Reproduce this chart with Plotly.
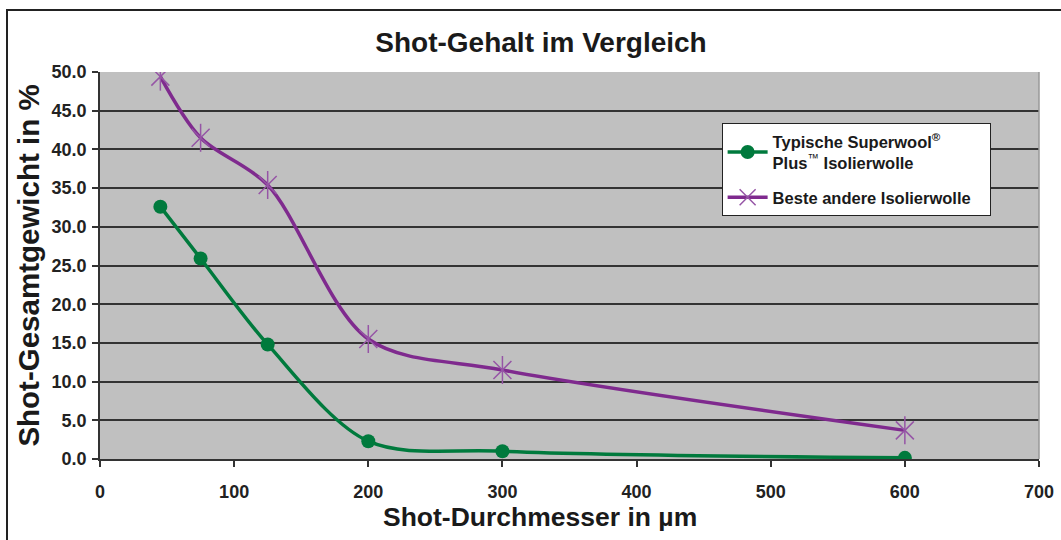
import plotly.graph_objects as go

diameter = [45, 75, 125, 200, 300, 600]
superwool = [32.6, 25.9, 14.8, 2.3, 1.0, 0.15]
other_wool = [49.4, 41.5, 35.4, 15.5, 11.5, 3.7]
x_ticks = [0, 100, 200, 300, 400, 500, 600, 700]
x_tick_labels = [f"<b>{v}</b>" for v in x_ticks]
y_ticks = [0, 5, 10, 15, 20, 25, 30, 35, 40, 45, 50]
y_tick_labels = [f"<b>{v:.1f}</b>" for v in y_ticks]

GREEN = "#007a3d"
PURPLE = "#7f2a8e"
PURPLE_MK = "#9655a6"
FONT = "Liberation Sans, Arial, sans-serif"

fig = go.Figure()
fig.add_trace(go.Scatter(
    x=diameter, y=superwool,
    name="<b>Typische Superwool<sup>®</sup></b><br><b>Plus</b><sup>™</sup><b> Isolierwolle</b>",
    mode="lines+markers", line=dict(color=GREEN, width=3.5, shape="spline", smoothing=0.9),
    marker=dict(symbol="circle", size=14, color=GREEN),
    legendgroup="a",
))
fig.add_trace(go.Scatter(
    x=diameter, y=other_wool, name="<b>Beste andere Isolierwolle</b>&nbsp;&nbsp;&nbsp;",
    mode="lines+markers", line=dict(color=PURPLE, width=3.5, shape="spline", smoothing=0.9),
    marker=dict(symbol="x-thin-open", size=18, color=PURPLE_MK, line=dict(color=PURPLE_MK, width=1.5)),
    legendgroup="b",
))
fig.add_trace(go.Scatter(
    x=diameter, y=other_wool, mode="markers", showlegend=False, hoverinfo="skip",
    marker=dict(symbol="line-ns-open", size=20, color=PURPLE_MK, line=dict(color=PURPLE_MK, width=1.5)),
))

# outer frame
fig.add_shape(type="rect", xref="paper", yref="paper",
              x0=-93/939, x1=(1070 - 100)/939, y0=-90/387, y1=449/387,
              line=dict(color="#222", width=2), fillcolor="rgba(0,0,0,0)", layer="below")
# right border of plot area
fig.add_shape(type="line", xref="paper", yref="paper", x0=1, x1=1, y0=0, y1=1,
              line=dict(color="#999", width=1.5))

# x-axis title, centred on the whole chart as in the reference
fig.add_annotation(text="<b>Shot-Durchmesser in µm</b>", xref="paper", yref="paper",
                   x=(540 - 100)/939, y=(459 - 517)/387, xanchor="center", yanchor="middle",
                   showarrow=False, font=dict(size=26.5, color="#1a1a1a", family=FONT))

fig.update_layout(
    width=1061, height=540,
    margin=dict(l=100, r=22, t=72, b=81, autoexpand=False),
    paper_bgcolor="white", plot_bgcolor="#c0c0c0",
    font=dict(family=FONT, color="#222"),
    title=dict(text="<b>Shot-Gehalt im Vergleich</b>", x=541/1061, xanchor="center",
               y=1 - 42/540, yanchor="middle", yref="container",
               font=dict(size=28, color="#1a1a1a")),
    showlegend=True,
    legend=dict(x=0.662, y=0.868, xanchor="left", yanchor="top",
                bgcolor="white", bordercolor="#222", borderwidth=1,
                font=dict(size=16.5, color="#1a1a1a", family=FONT),
                traceorder="grouped", tracegroupgap=10, itemwidth=40),
    xaxis=dict(range=[0, 700], tickvals=x_ticks, ticktext=x_tick_labels,
               showgrid=False, zeroline=False, automargin=False,
               showline=True, linecolor="#333", linewidth=1.5,
               ticks="outside", ticklen=6, tickcolor="#333", tickwidth=1.5,
               ticklabelstandoff=10,
               tickfont=dict(size=18, family=FONT, color="#222")),
    yaxis=dict(range=[0, 50], tickvals=y_ticks, ticktext=y_tick_labels,
               showgrid=True, gridcolor="#333333", gridwidth=1.6, zeroline=False, automargin=False,
               showline=True, linecolor="#333", linewidth=1.5,
               ticks="outside", ticklen=6, tickcolor="#333", tickwidth=1.5,
               ticklabelstandoff=2,
               tickfont=dict(size=18, family=FONT, color="#222"),
               title=dict(text="<b>Shot-Gesamtgewicht in %</b>", font=dict(size=29.5, color="#1a1a1a"),
                          standoff=3)),
)

fig.write_html("out.html", config={"displayModeBar": False},
               post_script="document.body.style.margin='0px';document.body.style.overflow='hidden';")
